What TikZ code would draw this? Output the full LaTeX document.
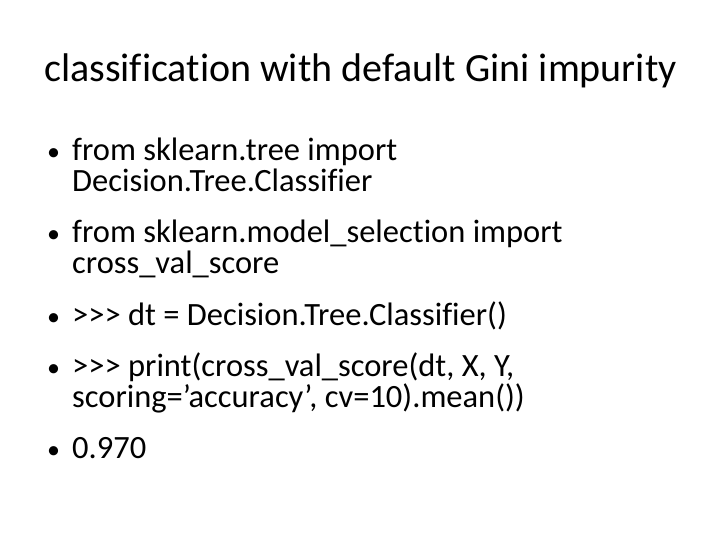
\documentclass[tikz,border=0pt]{standalone}
\usepackage{fontspec}
\setmainfont{Carlito}[Ligatures={NoCommon}]
\begin{document}
\begin{tikzpicture}[x=1pt,y=-1pt,
  ttl/.style={anchor=base west,inner sep=0pt,font=\fontsize{40}{48}\selectfont},
  txt/.style={anchor=base west,inner sep=0pt,font=\fontsize{32.5}{39}\selectfont},
  bul/.style={anchor=base west,inner sep=0pt,font=\fontsize{26}{31}\selectfont}]
\useasboundingbox (0,0) rectangle (720,540);
\node[ttl] (t) at (44,82) {classification with default Gini impurity};
\node[bul] (b1) at (47,161) {•};
\node[txt] (l1) at (72,161) {from sklearn.tree import};
\node[txt] (l2) at (72,192) {Decision.Tree.Classifier};
\node[bul] (b2) at (47,242) {•};
\node[txt] (l3) at (72,242) {from sklearn.model\_selection import};
\node[txt] (l4) at (72,273) {cross\_val\_score};
\node[bul] (b3) at (47,325) {•};
\node[txt] (l5) at (72,325) {>{}>{}> dt = Decision.Tree.Classifier()};
\node[bul] (b4) at (47,376) {•};
\node[txt] (l6) at (72,376) {>{}>{}> print(cross\_val\_score(dt, X, Y,};
\node[txt] (l7) at (72,407) {scoring=\symbol{39}accuracy\symbol{39}, cv=10).mean())};
\node[bul] (b5) at (47,458) {•};
\node[txt] (l8) at (72,458) {0.970};
\end{tikzpicture}
\end{document}
